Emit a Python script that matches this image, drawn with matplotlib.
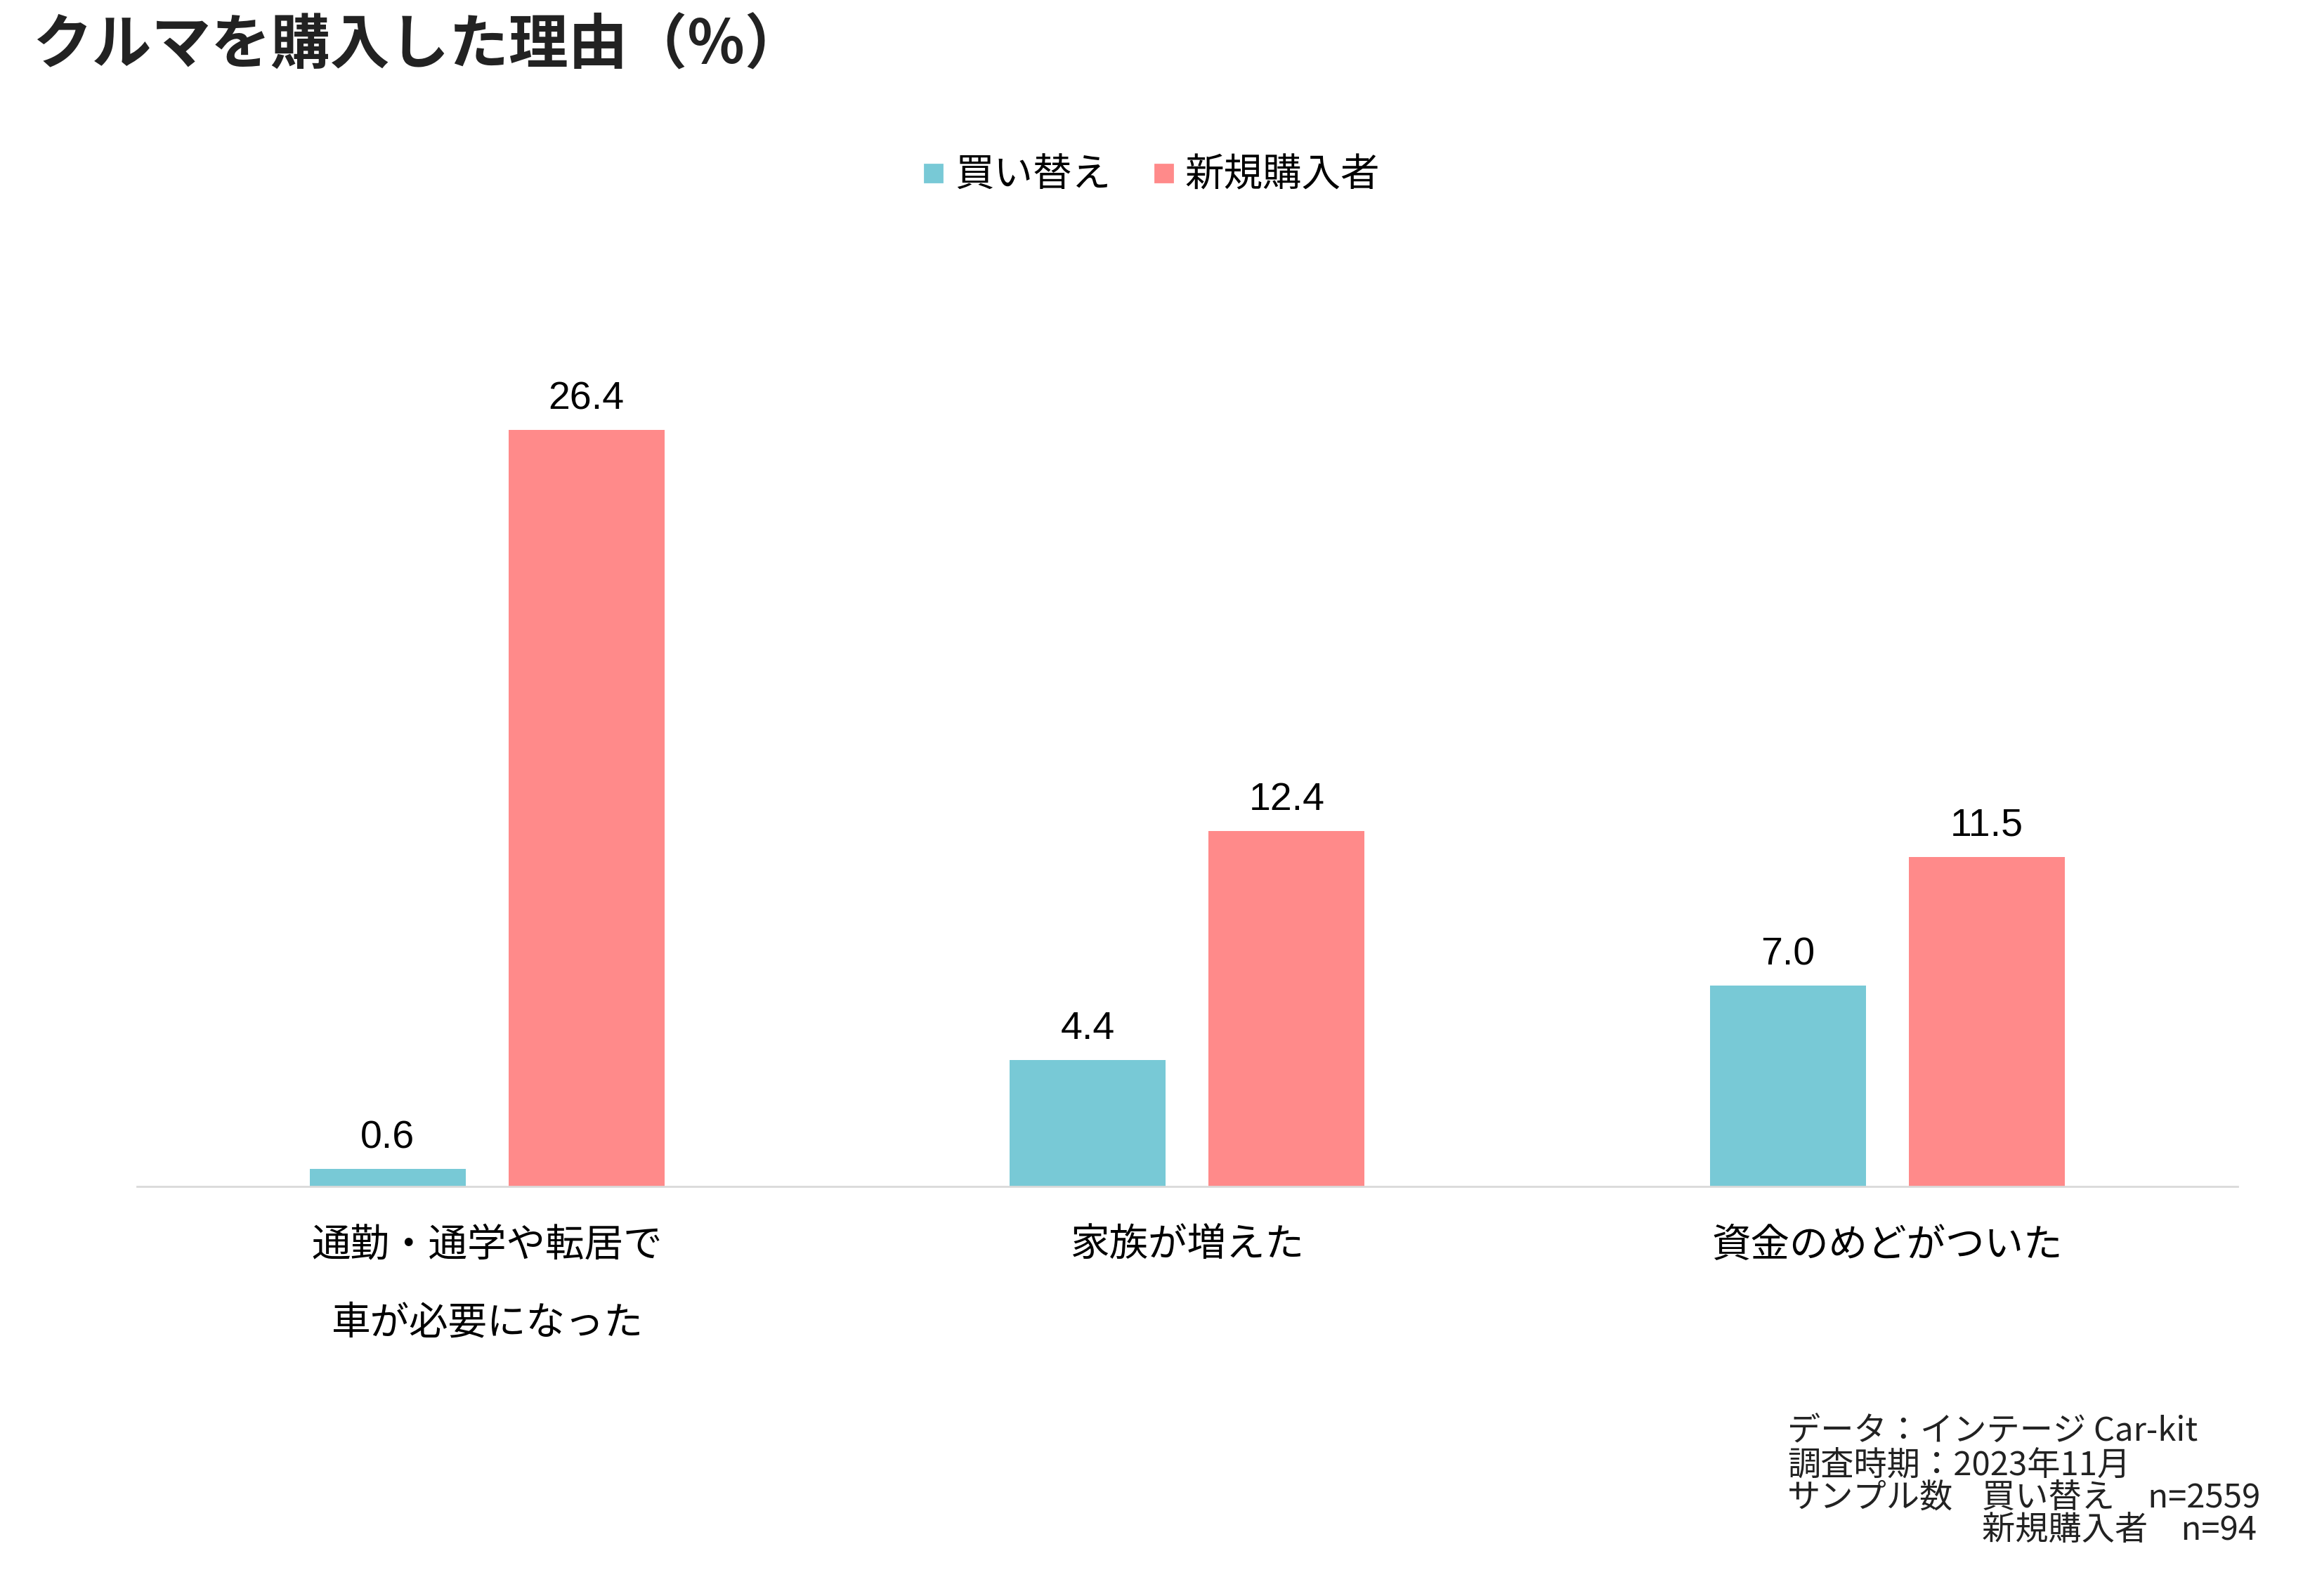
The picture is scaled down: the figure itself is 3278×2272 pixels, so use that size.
import matplotlib
matplotlib.use('Agg')
import matplotlib.pyplot as plt
from matplotlib.lines import Line2D
import numpy as np

# データ
categories = ['通勤・通学や転居で\n車が必要になった', '家族が増えた', '資金のめどがついた']
series_names = ['買い替え', '新規購入者']
kaikae = [0.6, 4.4, 7.0]
shinki = [26.4, 12.4, 11.5]
colors = ['#78C9D6', '#FF8A8A']

title = 'クルマを購入した理由（%）'
notes = ['データ：インテージ Car-kit', '調査時期：2023年11月', 'サンプル数']
sample_lines = ['買い替え\u3000n=2559', '新規購入者\u3000n=94']

JP = ['Noto Sans CJK JP', 'DejaVu Sans']
NUM = ['Liberation Sans', 'DejaVu Sans']
plt.rcParams['font.family'] = JP

fig = plt.figure(figsize=(16.39, 11.36), dpi=200)
ax = fig.add_axes([0.0595, 0.2568, 0.912, 0.567])

x = np.arange(len(categories))
w = 0.223
off = 0.142
b1 = ax.bar(x - off, kaikae, w, color=colors[0])
b2 = ax.bar(x + off, shinki, w, color=colors[1])

for bars, vals in ((b1, kaikae), (b2, shinki)):
    for r, v in zip(bars, vals):
        ax.annotate(f'{v:.1f}', (r.get_x() + r.get_width() / 2, v),
                    xytext=(0, 6.5), textcoords='offset points',
                    ha='center', va='bottom', fontsize=20, family=NUM, color='black')

ax.set_xlim(-0.5, 2.5)
ax.set_ylim(0, 31.6)
ax.set_xticks(x)
ax.set_xticklabels(categories, fontsize=20, linespacing=2.2)
ax.tick_params(axis='x', length=0, pad=20)
ax.set_yticks([])
for s in ['left', 'right', 'top']:
    ax.spines[s].set_visible(False)
ax.spines['bottom'].set_color('#D9D9D9')
ax.spines['bottom'].set_linewidth(1.0)

# タイトル
fig.text(0.014, 0.9714, title, fontsize=30.5, fontweight='bold', color='#222222',
         ha='left', va='center')

# 凡例
handles = [Line2D([], [], marker='s', linestyle='none', markersize=9,
                  markerfacecolor=c, markeredgecolor=c) for c in colors]
fig.legend(handles, series_names, loc='center', bbox_to_anchor=(0.5, 0.890),
           ncol=2, frameon=False, fontsize=20, handlelength=0.5,
           handletextpad=0.3, columnspacing=1.1)

# 注記
ys = [0.1030, 0.0815, 0.0612, 0.0410]
for t, y in zip(notes, ys[:3]):
    fig.text(0.7760, y, t, fontsize=17, color='#222222', ha='left', va='center')
for t, y in zip(sample_lines, ys[2:]):
    fig.text(0.8605, y, t, fontsize=17, color='#222222', ha='left', va='center')

fig.savefig('out.png', dpi=200)
